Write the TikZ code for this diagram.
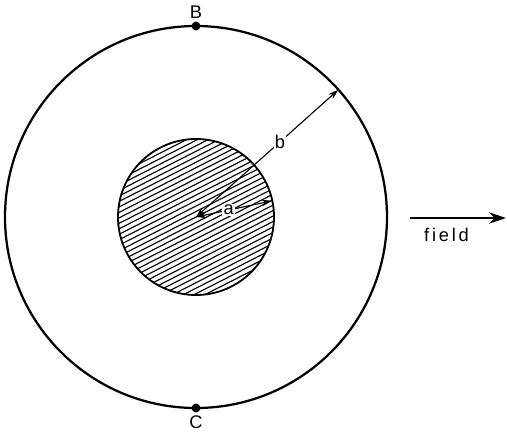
\documentclass[tikz,border=0pt]{standalone}
\usepackage{fontspec}
\setmainfont{Liberation Sans}
\usetikzlibrary{arrows.meta}

\begin{document}
\begin{tikzpicture}[
  rim/.style={line width=1.6pt},
  hatch/.style={line width=0.8pt},
  dim/.style={{Stealth[length=2.6mm,width=1.6mm]}-{Stealth[length=2.6mm,width=1.6mm]}, line width=0.8pt},
  lbl/.style={fill=white, inner sep=1pt, font=\fontsize{13}{15}\selectfont},
  dot/.style={circle, fill, inner sep=0pt, minimum size=2.2mm}
]
  \useasboundingbox (-4.9,-5.45) rectangle (7.775,5.425);
  \coordinate (o) at (0,0);

  % hatched core
  \begin{scope}[rotate=27]
    \clip (o) circle (1.95);
    \foreach \k in {-18,...,18}
      \draw[hatch] (-2.1,\k*0.122) -- (2.1,\k*0.122);
  \end{scope}
  \draw[line width=1.3pt] (o) circle (1.95);
  \draw[rim] (o) circle (4.775);

  % radii
  \coordinate (aend) at (12:1.95);
  \coordinate (bend) at (41.8:4.775);
  \draw[dim] (o) -- (bend) node[lbl, pos=0.59] {b};
  \draw[dim] (o) -- (aend) node[lbl, pos=0.43] {a};

  % points on the rim
  \node[dot] (B) at (90:4.775) {};
  \node[dot] (C) at (270:4.775) {};
  \node[lbl, fill=none, above=1pt] at (B.north) {B};
  \node[lbl, fill=none, below=1pt] at (C.south) {C};

  % field direction
  \coordinate (f0) at (5.35,-0.025);
  \coordinate (f1) at (7.75,-0.025);
  \draw[-{Stealth[length=4.2mm,width=2.8mm]}, line width=1.8pt] (f0) -- (f1)
    node[pos=0.38, below=3pt, font=\fontsize{13}{15}\selectfont\addfontfeatures{LetterSpace=15}] {field};
\end{tikzpicture}
\end{document}
